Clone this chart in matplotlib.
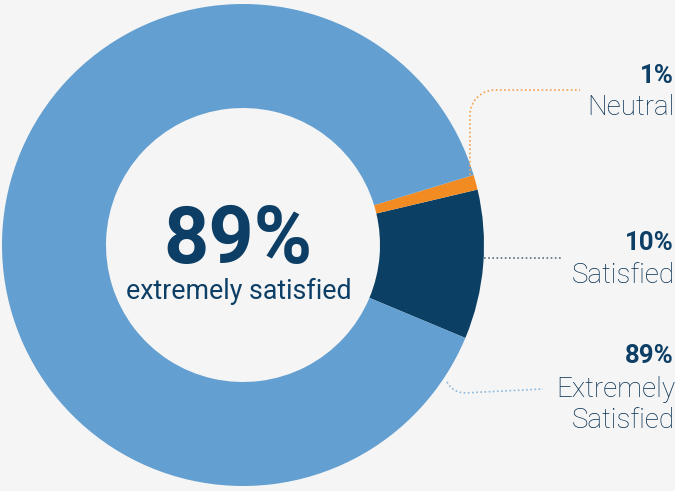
import numpy as np
import matplotlib.pyplot as plt

plt.rcParams['font.family'] = ['Roboto', 'DejaVu Sans']

# data, in drawing order (counter-clockwise from the lower right)
labels = ['Satisfied', 'Neutral', 'Extremely\nSatisfied']
shares = [10, 1, 89]
pct_labels = ['10%', '1%', '89%']
colors = ['#0b3f63', '#f28c22', '#639fd0']
leader_colors = ['#5a6f80', '#f5a04a', '#8ab8de']
center_value = '89%'
center_text = 'extremely satisfied'

W, H = 675, 491
bg = '#f5f5f5'
navy = '#0d3f66'

fig = plt.figure(figsize=(W / 100, H / 100), dpi=100, facecolor=bg)
ax = fig.add_axes([0, 0, 1, 1])
ax.set_facecolor(bg)

cx, cy = 243, H - 245
r_out, r_in = 241, 137
ax.pie(shares, colors=colors, startangle=-22.7, counterclock=True,
       center=(cx, cy), radius=r_out,
       wedgeprops=dict(width=r_out - r_in, linewidth=0))

ax.set_xlim(0, W)
ax.set_ylim(0, H)
ax.set_aspect('equal')
ax.axis('off')

# centre text
ax.text(cx - 5, H - 263, center_value, ha='center', va='baseline',
        fontsize=57, fontweight='bold', color=navy)
ax.text(cx - 4, H - 299, center_text, ha='center', va='baseline',
        fontsize=19.3, color=navy)

# side labels: pct baseline, then label line baselines (image px)
label_y = [(250, [283]), (83, [115]), (363, [397, 428])]
for pct, lab, (yp, yls) in zip(pct_labels, labels, label_y):
    ax.text(674, H - yp, pct, ha='right', va='baseline',
            fontsize=18.5, fontweight='bold', color=navy)
    for line, yl in zip(lab.split('\n'), yls):
        ax.text(675, H - yl, line, ha='right', va='baseline',
                fontsize=20, fontweight='light', color='#062f52')

# leader lines
# Satisfied: straight
ax.plot([484, 563], [H - 258, H - 258], ls=(0, (1, 1.5)), lw=1.2,
        color=leader_colors[0])
# Neutral: up then right with rounded corner
rad = 25
t = np.linspace(np.pi, np.pi / 2, 20)
xs = np.r_[470, 470 + rad + rad * np.cos(t), 580]
ys = np.r_[H - 175, (H - 90 - rad) + rad * np.sin(t), H - 90]
ax.plot(xs, ys, ls=(0, (1, 1.5)), lw=1.2, color=leader_colors[1])
# Extremely satisfied: short curve then right
t = np.linspace(np.pi * 1.15, np.pi * 1.5, 10)
rad = 20
xs = np.r_[447 + rad * (np.cos(t) - np.cos(t[0])), 543]
ys = np.r_[(H - 382) + rad * (np.sin(t) - np.sin(t[0])), H - 389]
ax.plot(xs, ys, ls=(0, (1, 1.5)), lw=1.2, color=leader_colors[2])

fig.savefig('out.png', dpi=100, facecolor=bg)
